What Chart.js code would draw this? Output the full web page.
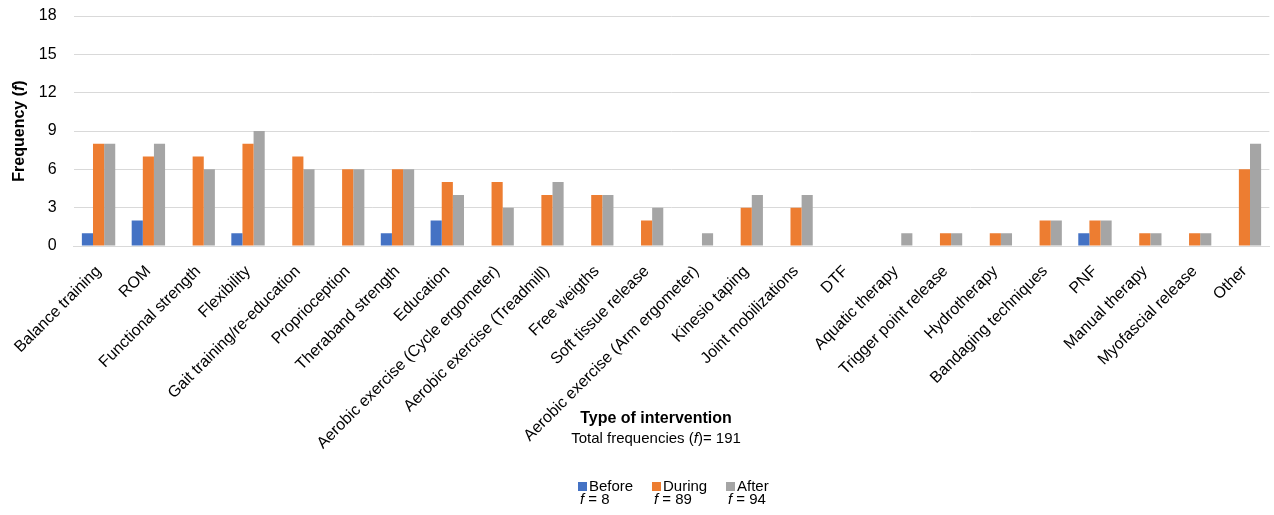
<!DOCTYPE html>
<html>
<head>
<meta charset="utf-8">
<script src="https://cdn.jsdelivr.net/npm/chart.js@4.4.0/dist/chart.umd.min.js"></script>
<style>
  html, body { margin: 0; padding: 0; background: #fff; }
</style>
</head>
<body>
<canvas id="myChart" width="1274" height="515"></canvas>
<script>
var categories = ['Balance training', 'ROM', 'Functional strength', 'Flexibility',
  'Gait training/re-education', 'Proprioception', 'Theraband strength', 'Education',
  'Aerobic exercise (Cycle ergometer)', 'Aerobic exercise (Treadmill)', 'Free weigths',
  'Soft tissue release', 'Aerobic exercise (Arm ergometer)', 'Kinesio taping',
  'Joint mobilizations', 'DTF', 'Aquatic therapy', 'Trigger point release', 'Hydrotherapy',
  'Bandaging techniques', 'PNF', 'Manual therapy', 'Myofascial release', 'Other'];

var before = [1, 2, 0, 1, 0, 0, 1, 2, 0, 0, 0, 0, 0, 0, 0, 0, 0, 0, 0, 0, 1, 0, 0, 0];
var during = [8, 7, 7, 8, 7, 6, 6, 5, 5, 4, 4, 2, 0, 3, 3, 0, 0, 1, 1, 2, 2, 1, 1, 6];
var after  = [8, 8, 6, 9, 6, 6, 6, 4, 3, 5, 4, 3, 1, 4, 4, 0, 1, 1, 1, 2, 2, 1, 1, 8];

var seriesNames = ['Before', 'During', 'After'];
var seriesColors = ['#4472C4', '#ED7D31', '#A5A5A5'];

var FONT = '"Liberation Sans", Arial, sans-serif';

function sum(arr) {
  return arr.reduce(function(a, b) { return a + b; }, 0);
}

// draws pieces of text, some italic, starting at x
function drawMixed(ctx, parts, x, y, size, bold) {
  parts.forEach(function(p) {
    ctx.font = (p.italic ? 'italic ' : '') + (bold ? 'bold ' : '') + size + 'px ' + FONT;
    ctx.fillText(p.t, x, y);
    x += ctx.measureText(p.t).width;
  });
}
function mixedWidth(ctx, parts, size, bold) {
  var w = 0;
  parts.forEach(function(p) {
    ctx.font = (p.italic ? 'italic ' : '') + (bold ? 'bold ' : '') + size + 'px ' + FONT;
    w += ctx.measureText(p.t).width;
  });
  return w;
}

var overlay = {
  id: 'overlay',
  afterDraw: function(chart) {
    var ctx = chart.ctx;
    var area = chart.chartArea;
    ctx.save();
    ctx.fillStyle = '#000';
    ctx.textBaseline = 'middle';
    ctx.textAlign = 'left';

    // y axis title
    var yParts = [{t: 'Frequency ('}, {t: 'f', italic: true}, {t: ')'}];
    var yw = mixedWidth(ctx, yParts, 16, true);
    ctx.save();
    ctx.translate(20, (area.top + area.bottom) / 2);
    ctx.rotate(-Math.PI / 2);
    drawMixed(ctx, yParts, -yw / 2, 0, 16, true);
    ctx.restore();

    // x axis title
    ctx.textAlign = 'center';
    ctx.font = 'bold 16px ' + FONT;
    ctx.fillText('Type of intervention', 656, 419);
    ctx.textAlign = 'left';
    var total = sum(before) + sum(during) + sum(after);
    var tParts = [{t: 'Total frequencies ('}, {t: 'f', italic: true}, {t: ')= ' + total}];
    var tw = mixedWidth(ctx, tParts, 15, false);
    drawMixed(ctx, tParts, 656 - tw / 2, 439, 15, false);

    // legend
    var legX = [578, 652, 726];
    var data = [before, during, after];
    for (var i = 0; i < 3; i++) {
      ctx.fillStyle = seriesColors[i];
      ctx.fillRect(legX[i], 482, 9, 9);
      ctx.fillStyle = '#000';
      ctx.font = '15px ' + FONT;
      ctx.fillText(seriesNames[i], legX[i] + 11, 487);
      drawMixed(ctx, [{t: 'f', italic: true}, {t: ' = ' + sum(data[i])}], legX[i] + 2, 500, 15, false);
    }
    ctx.restore();
  }
};

var ctx = document.getElementById('myChart').getContext('2d');
var myChart = new Chart(ctx, {
  type: 'bar',
  data: {
    labels: categories,
    datasets: [
      { label: seriesNames[0], data: before, backgroundColor: seriesColors[0] },
      { label: seriesNames[1], data: during, backgroundColor: seriesColors[1] },
      { label: seriesNames[2], data: after,  backgroundColor: seriesColors[2] }
    ]
  },
  options: {
    responsive: false,
    animation: false,
    devicePixelRatio: 1,
    datasets: {
      bar: { categoryPercentage: 0.67, barPercentage: 1.0 }
    },
    layout: { padding: { top: 16, right: 1, left: 0, bottom: 0 } },
    plugins: {
      legend: { display: false },
      tooltip: { enabled: false }
    },
    scales: {
      x: {
        grid: { display: false, drawTicks: false },
        border: { color: '#D9D9D9', width: 1 },
        ticks: {
          color: '#000',
          font: { family: FONT, size: 16 },
          minRotation: 45,
          maxRotation: 45,
          autoSkip: false,
          padding: 16
        },
        afterFit: function(scale) { scale.height = 269; }
      },
      y: {
        min: 0,
        max: 18,
        grid: { color: '#D9D9D9', drawTicks: false },
        border: { display: false },
        ticks: {
          stepSize: 3,
          color: '#000',
          font: { family: FONT, size: 16 },
          padding: 17
        },
        afterFit: function(scale) {
          scale.width = 72;
          scale.paddingTop = 0;
          scale.paddingBottom = 0;
        }
      }
    }
  },
  plugins: [overlay]
});
</script>
</body>
</html>
